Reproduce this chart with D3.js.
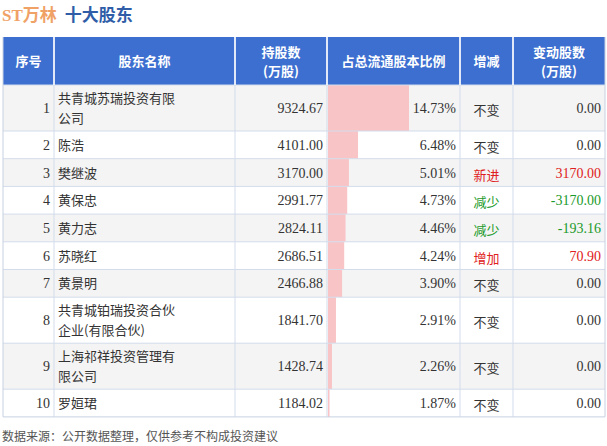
<!DOCTYPE html>
<html><head><meta charset="utf-8">
<script src="https://cdn.jsdelivr.net/npm/d3@7"></script>
<style>body{margin:0;background:#fff}</style>
</head><body><svg id="c" width="607" height="446"></svg>
<script>
var ranks = [1,2,3,4,5,6,7,8,9,10];
var names = [["共青城苏瑞投资有限","公司"],["陈浩"],["樊继波"],["黄保忠"],["黄力志"],["苏晓红"],["黄景明"],["共青城铂瑞投资合伙","企业(有限合伙)"],["上海祁祥投资管理有","限公司"],["罗姮珺"]];
var shares = ["9324.67","4101.00","3170.00","2991.77","2824.11","2686.51","2466.88","1841.70","1428.74","1184.02"];
var ratios = [14.73,6.48,5.01,4.73,4.46,4.24,3.90,2.91,2.26,1.87];
var changes = ["不变","不变","新进","减少","减少","增加","不变","不变","不变","不变"];
var changeAmt = ["0.00","0.00","3170.00","-3170.00","-193.16","70.90","0.00","0.00","0.00","0.00"];

var svg = d3.select('#c');
var cn = '"Noto Sans CJK SC", sans-serif', num = '"Liberation Serif", serif';
var cols = [3, 54, 235, 327, 460, 513, 605];
var headers = [["序号"],["股东名称"],["持股数","(万股)"],["占总流通股本比例"],["增减"],["变动股数","(万股)"]];

svg.append('text').attr('x',2).attr('y',21).attr('font-family',cn).attr('font-weight','bold').attr('font-size',17)
  .call(function(t){
    t.append('tspan').attr('fill','#f0a266').attr('font-family',num).text('ST');
    t.append('tspan').attr('fill','#f0a266').text('万林');
    t.append('tspan').attr('fill','#2f5da8').attr('dx',8).text('十大股东');
  });

var headTop = 37, headBot = 85;
svg.append('rect').attr('x',cols[0]).attr('y',headTop).attr('width',cols[6]-cols[0]).attr('height',headBot-headTop).attr('fill','#3c6fd0');
headers.forEach(function(h,i){
  var cx=(cols[i]+cols[i+1])/2;
  h.forEach(function(s,j){
    svg.append('text').attr('x',cx).attr('y',(headTop+headBot)/2+5+(h.length==2?(j-0.5)*19:0))
      .attr('text-anchor','middle').attr('fill','#fff').attr('font-family',cn).attr('font-weight','bold').attr('font-size',13).text(s);
  });
});

var tops=[], cur=headBot;
names.forEach(function(n){ var h=n.length==2?46:27.7; tops.push([cur,h]); cur+=h; });

var x = d3.scaleLinear().domain([1.62,14.73]).range([0,81]);
var g = svg.selectAll('g.row').data(ranks).enter().append('g').attr('class','row');
g.append('rect').attr('x',cols[0]).attr('y',function(d,i){return tops[i][0];}).attr('width',cols[6]-cols[0])
  .attr('height',function(d,i){return tops[i][1];}).attr('fill',function(d,i){return i%2==0?'#f4f4f4':'#fff';});
g.append('rect').attr('x',cols[3]+1).attr('y',function(d,i){return tops[i][0];}).attr('width',function(d,i){return Math.max(1,x(ratios[i]));})
  .attr('height',function(d,i){return tops[i][1];}).attr('fill','#f9c4c6');
function mid(i){return tops[i][0]+tops[i][1]/2+5;}
g.append('text').attr('x',cols[1]-4).attr('y',function(d,i){return mid(i);}).attr('text-anchor','end').attr('font-family',num).attr('font-size',14).attr('fill','#333').text(function(d){return d;});
g.each(function(d,i){
  var n=names[i], s=d3.select(this);
  n.forEach(function(t,j){
    s.append('text').attr('x',cols[1]+4).attr('y',mid(i)+(n.length==2?(j-0.5)*20:0)).attr('font-family',cn).attr('font-size',13).attr('fill','#333').text(t);
  });
});
g.append('text').attr('x',cols[3]-4).attr('y',function(d,i){return mid(i);}).attr('text-anchor','end').attr('font-family',num).attr('font-size',14).attr('fill','#333').text(function(d,i){return shares[i];});
g.append('text').attr('x',cols[4]-4).attr('y',function(d,i){return mid(i);}).attr('text-anchor','end').attr('font-family',num).attr('font-size',14).attr('fill','#333').text(function(d,i){return ratios[i].toFixed(2)+'%';});
function col(c){ if(c=='新进'||c=='增加') return '#e02020'; if(c=='减少') return '#1a9a2a'; return '#333'; }
g.append('text').attr('x',(cols[4]+cols[5])/2).attr('y',function(d,i){return mid(i)+2;}).attr('text-anchor','middle').attr('font-family',cn).attr('font-size',13)
  .attr('fill',function(d,i){return col(changes[i]);}).text(function(d,i){return changes[i];});
g.append('text').attr('x',cols[6]-4).attr('y',function(d,i){return mid(i);}).attr('text-anchor','end').attr('font-family',num).attr('font-size',14)
  .attr('fill',function(d,i){return col(changes[i]);}).text(function(d,i){return changeAmt[i];});

var bottom = cur;
tops.forEach(function(t){ svg.append('line').attr('x1',cols[0]).attr('x2',cols[6]).attr('y1',t[0]).attr('y2',t[0]).attr('stroke','#d3dceb'); });
svg.append('line').attr('x1',cols[0]).attr('x2',cols[6]).attr('y1',bottom).attr('y2',bottom).attr('stroke','#c8d2e2');
cols.forEach(function(c,i){
  svg.append('line').attr('x1',c).attr('x2',c).attr('y1',headTop).attr('y2',bottom).attr('stroke',(i==0||i==6)?'#c8d2e2':'#d3dceb');
  if(i>0&&i<6) svg.append('line').attr('x1',c).attr('x2',c).attr('y1',headTop).attr('y2',headBot).attr('stroke','#fff').attr('stroke-width',1.5);
});

svg.append('text').attr('x',2).attr('y',441).attr('font-family',cn).attr('font-size',12).attr('fill','#555').text('数据来源：公开数据整理，仅供参考不构成投资建议');
</script></body></html>
